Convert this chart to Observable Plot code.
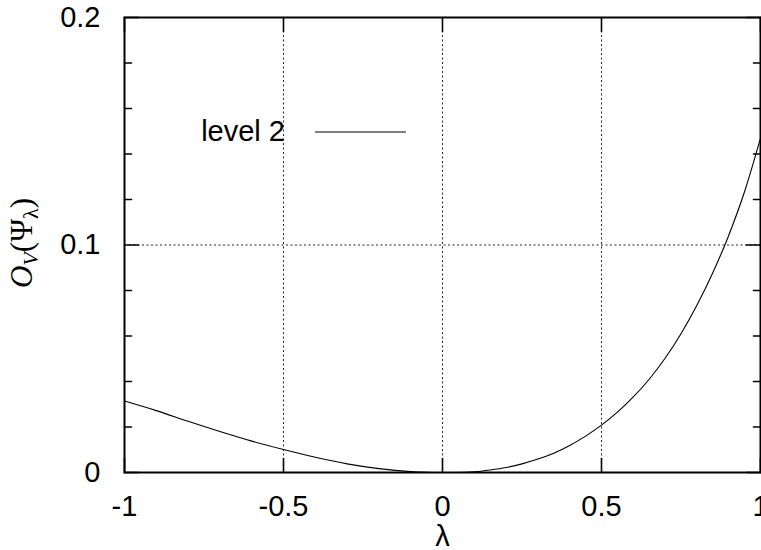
<!DOCTYPE html>
<html>
<head>
<meta charset="utf-8">
<script src="https://cdn.jsdelivr.net/npm/d3@7"></script>
<script src="https://cdn.jsdelivr.net/npm/@observablehq/plot@0.6"></script>
<style>
  html, body { margin: 0; padding: 0; background: white; }
</style>
</head>
<body>
<div id="chart"></div>
<script>
const lambda = [-1, -0.9, -0.8, -0.7, -0.6, -0.5, -0.4, -0.3, -0.2, -0.1, -0.05, 0, 0.05, 0.1, 0.15, 0.2, 0.25, 0.3, 0.35, 0.4, 0.45, 0.5, 0.55, 0.6, 0.65, 0.7, 0.75, 0.8, 0.85, 0.9, 0.95, 1];
const overlap = [0.0314, 0.0272, 0.0225, 0.0180, 0.0138, 0.0101, 0.0067, 0.0038, 0.0017, 0.0004, 0.0001, 0, 0, 0.0003, 0.0011, 0.0022, 0.0038, 0.0059, 0.0085, 0.0119, 0.0160, 0.0208, 0.0265, 0.0332, 0.0410, 0.0502, 0.0610, 0.0735, 0.0878, 0.1042, 0.1235, 0.147];

const xDomain = [-1, 1];
const yDomain = [0, 0.2];
const xTicks = [-1, -0.5, 0, 0.5, 1];
const xTickLabels = ["-1", "-0.5", "0", "0.5", "1"];
const yTicks = [0, 0.1, 0.2];
const yTickLabels = ["0", "0.1", "0.2"];
const yMinorTicks = [0.02, 0.04, 0.06, 0.08, 0.12, 0.14, 0.16, 0.18];
const xGrid = [-0.5, 0, 0.5];
const yGrid = [0.1];
const seriesName = "level 2";
const xLabel = "λ";

const data = lambda.map((l, i) => ({lambda: l, value: overlap[i]}));

const FS = 29;
const sans = "'Liberation Sans', Arial, Helvetica, sans-serif";
const serif = "'Liberation Serif', 'Times New Roman', serif";

const gridStyle = {stroke: "#000", strokeOpacity: 0.85, strokeDasharray: "2,2.5", strokeWidth: 1};
const tickShape = {draw(context, l) { context.moveTo(0, 0); context.lineTo(0, -l); }};
const tickStyle = {stroke: "black", strokeWidth: 1.6, anchor: "start", shape: tickShape};

const chart = Plot.plot({
  width: 761,
  height: 550,
  marginLeft: 124,
  marginRight: 1,
  marginTop: 17,
  marginBottom: 78,
  style: {fontFamily: sans, fontSize: FS + "px", background: "white", color: "black"},
  x: {domain: xDomain},
  y: {domain: yDomain},
  marks: [
    Plot.gridX(xGrid, gridStyle),
    Plot.gridY(yGrid, gridStyle),
    Plot.line(data, {x: "lambda", y: "value", curve: "monotone-x", stroke: "black", strokeWidth: 1.1}),
    // inward ticks (gnuplot style)
    Plot.vector(yMinorTicks, {x: () => xDomain[0], y: d => d, length: 7, rotate: 90, ...tickStyle}),
    Plot.vector(yMinorTicks, {x: () => xDomain[1], y: d => d, length: 7, rotate: -90, ...tickStyle}),
    Plot.vector(yTicks, {x: () => xDomain[0], y: d => d, length: 14, rotate: 90, ...tickStyle}),
    Plot.vector(yTicks, {x: () => xDomain[1], y: d => d, length: 14, rotate: -90, ...tickStyle}),
    Plot.vector(xTicks, {x: d => d, y: () => yDomain[0], length: 14, rotate: 0, ...tickStyle}),
    Plot.vector(xTicks, {x: d => d, y: () => yDomain[1], length: 14, rotate: 180, ...tickStyle}),
    Plot.axisY(yTicks, {anchor: "left", tickSize: 0, tickPadding: 24, fontSize: FS, label: null,
      tickFormat: d => yTickLabels[yTicks.indexOf(d)]}),
    Plot.axisX(xTicks, {anchor: "bottom", tickSize: 0, tickPadding: 23, fontSize: FS, label: null,
      tickFormat: d => xTickLabels[xTicks.indexOf(d)]}),
    Plot.text([xLabel], {frameAnchor: "bottom", dy: 73, fontSize: FS, fill: "black", text: d => d}),
    Plot.frame({stroke: "black", strokeWidth: 2})
  ]
});

document.getElementById("chart").appendChild(chart);

const svg = d3.select(chart);

// Y axis label: O_V(Ψ_λ)
const yl = svg.append("text")
  .attr("transform", "translate(32,243) rotate(-90)")
  .attr("text-anchor", "middle")
  .attr("font-family", serif)
  .attr("font-size", 31)
  .attr("fill", "black");
yl.append("tspan").attr("font-style", "italic").text("O");
yl.append("tspan").attr("font-style", "italic").attr("font-size", 22).attr("dy", 6).text("V");
yl.append("tspan").attr("dy", -6).text("(Ψ");
yl.append("tspan").attr("font-size", 22).attr("dy", 6).text("λ");
yl.append("tspan").attr("dy", -6).text(")");

// Legend
svg.append("text")
  .attr("x", 285).attr("y", 141)
  .attr("text-anchor", "end")
  .attr("font-family", sans)
  .attr("font-size", FS)
  .attr("fill", "black")
  .text(seriesName);
svg.append("line")
  .attr("x1", 315).attr("x2", 406)
  .attr("y1", 132).attr("y2", 132)
  .attr("stroke", "black").attr("stroke-width", 1.1);
</script>
</body>
</html>
